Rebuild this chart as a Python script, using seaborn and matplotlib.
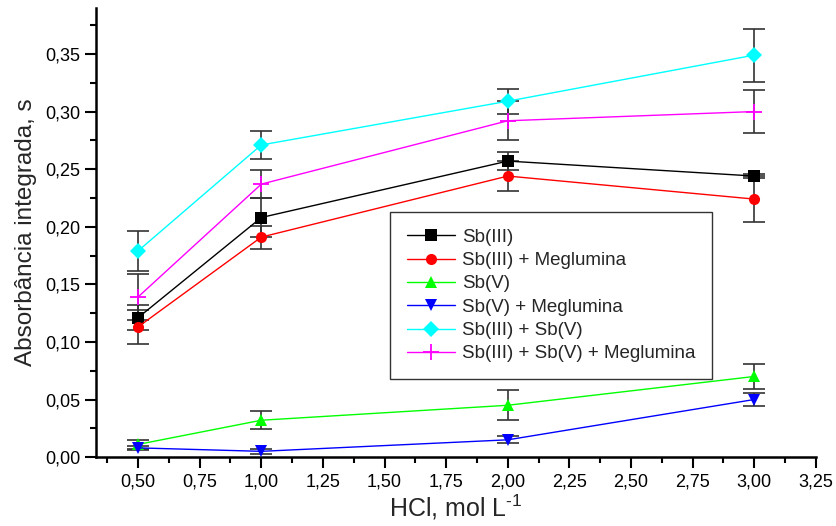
import numpy as np
import pandas as pd
import seaborn as sns
import matplotlib
matplotlib.use("Agg")
import matplotlib.pyplot as plt
from matplotlib.ticker import MultipleLocator, FuncFormatter

hcl = [0.5, 1.0, 2.0, 3.0]
series_names = ["Sb(III)", "Sb(III) + Meglumina", "Sb(V)", "Sb(V) + Meglumina",
                "Sb(III) + Sb(V)", "Sb(III) + Sb(V) + Meglumina"]
sb3 = [0.121, 0.208, 0.257, 0.244]
sb3_meg = [0.113, 0.191, 0.244, 0.224]
sb5 = [0.011, 0.032, 0.045, 0.070]
sb5_meg = [0.008, 0.005, 0.015, 0.050]
sb3_sb5 = [0.179, 0.271, 0.309, 0.349]
sb3_sb5_meg = [0.139, 0.237, 0.292, 0.300]

err_sb3 = [0.011, 0.017, 0.008, 0.002]
err_sb3_meg = [0.015, 0.010, 0.013, 0.020]
err_sb5 = [0.004, 0.008, 0.013, 0.011]
err_sb5_meg = [0.002, 0.002, 0.003, 0.006]
err_sb3_sb5 = [0.017, 0.012, 0.011, 0.023]
err_sb3_sb5_meg = [0.020, 0.012, 0.017, 0.019]

values = [sb3, sb3_meg, sb5, sb5_meg, sb3_sb5, sb3_sb5_meg]
errors = [err_sb3, err_sb3_meg, err_sb5, err_sb5_meg, err_sb3_sb5, err_sb3_sb5_meg]
colors = ["#000000", "#FF0000", "#00FF00", "#0000FF", "#00FFFF", "#FF00FF"]
markers = ["s", "o", "^", "v", "D", "+"]

sns.set_theme(style="ticks")
plt.rcParams['font.family'] = ['Liberation Sans', 'DejaVu Sans']
plt.rcParams['mathtext.fontset'] = 'custom'
plt.rcParams['mathtext.rm'] = 'Liberation Sans'

fig = plt.figure(figsize=(8.36, 5.26), dpi=100)
ax = fig.add_axes([0.115, 0.131, 0.861, 0.854])

# error bars
for vals, errs in zip(values, errors):
    ax.errorbar(hcl, vals, yerr=errs, fmt='none', ecolor='#333333', elinewidth=1.2,
                capsize=8, capthick=1.2, zorder=1)

for name, vals, c, m in zip(series_names, values, colors, markers):
    d = pd.DataFrame({"HCl": hcl, "Abs": vals})
    if m == '+':
        sns.lineplot(data=d, x="HCl", y="Abs", color=c, marker=m, markersize=12,
                     markeredgewidth=1.3, markeredgecolor=c, linewidth=1.0,
                     label=name, ax=ax, zorder=3)
    else:
        sns.lineplot(data=d, x="HCl", y="Abs", color=c, marker=m, markersize=8,
                     markeredgewidth=0, linewidth=1.0, label=name, ax=ax, zorder=3)

ax.set_xlim(0.33, 3.25)
ax.set_ylim(0.0, 0.39)
ax.xaxis.set_major_locator(MultipleLocator(0.25))
ax.xaxis.set_minor_locator(MultipleLocator(0.125))
ax.yaxis.set_major_locator(MultipleLocator(0.05))
ax.yaxis.set_minor_locator(MultipleLocator(0.025))
fmt = FuncFormatter(lambda v, p: f"{v:.2f}".replace(".", ","))
ax.set_xticks([t for t in np.arange(0.5, 3.26, 0.25)])
ax.xaxis.set_major_formatter(fmt)
ax.yaxis.set_major_formatter(fmt)
ax.tick_params(axis='both', which='major', direction='out', length=8, width=1.5,
               labelsize=13, color='black', labelcolor='black')
ax.tick_params(axis='both', which='minor', direction='out', length=4, width=1.5, color='black')
for s in ["top", "right"]:
    ax.spines[s].set_visible(False)
for s in ["left", "bottom"]:
    ax.spines[s].set_linewidth(1.8)
    ax.spines[s].set_color('black')

ax.set_xlabel("HCl, mol L$^{\\text{-1}}$", fontsize=18, labelpad=2)
ax.set_ylabel("Absorbância integrada, s", fontsize=17.5, labelpad=6)

handles, labels = ax.get_legend_handles_labels()
leg = ax.legend(handles, labels, loc='upper left', bbox_to_anchor=(0.408, 0.546),
                fontsize=13.5, frameon=True, fancybox=False, edgecolor='black',
                handlelength=2.6, labelspacing=0.33, borderpad=0.9, handletextpad=0.35,
                borderaxespad=0)
leg.get_frame().set_linewidth(1.0)

fig.savefig("out.png", dpi=100)
